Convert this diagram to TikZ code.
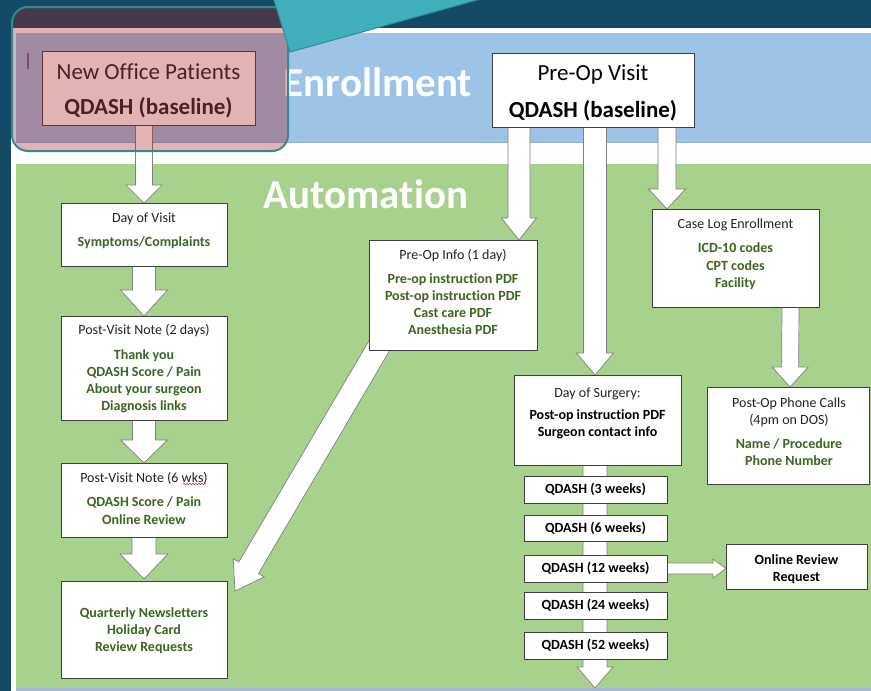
\documentclass[tikz,border=0pt]{standalone}
\usepackage{fontspec}
\setmainfont{Carlito}[Ligatures={NoCommon}]
\usetikzlibrary{calc,decorations.pathmorphing}
\pgfdeclarelayer{bglayer}
\pgfdeclarelayer{arrowlayer}
\pgfdeclarelayer{toplayer}
\pgfsetlayers{bglayer,arrowlayer,main,toplayer}
\definecolor{darkbg}{HTML}{144A66}
\definecolor{blueband}{HTML}{9DC3E6}
\definecolor{bluebandedge}{HTML}{8BAFD3}
\definecolor{greenband}{HTML}{A9D18E}
\definecolor{bottomstrip}{HTML}{A5B8CE}
\definecolor{tealfill}{HTML}{41AFBB}
\definecolor{tealedge}{HTML}{2E8C94}
\definecolor{ovlred}{HTML}{AC171B}
\definecolor{boxline}{HTML}{404040}
\definecolor{arrline}{HTML}{7F7F7F}
\definecolor{hdrc}{HTML}{222222}
\definecolor{grnc}{HTML}{3B6522}
\definecolor{tickc}{HTML}{6B6B6B}
\definecolor{squigc}{HTML}{E03030}
\newcommand\gtxt[1]{{\bfseries\color{grnc}#1}}
\newcommand\ktxt[1]{{\bfseries\color{black}#1}}
\newcommand\blockarr[5]{%
  \path #1 coordinate (ba-s);
  \path #2 coordinate (ba-e);
  \path ($(ba-e)!#5!(ba-s)$) coordinate (ba-h);
  \draw[blockarrow] ($(ba-s)!#3!90:(ba-e)$) -- ($(ba-h)!#3!-90:(ba-s)$) -- ($(ba-h)!#4!-90:(ba-s)$) -- (ba-e) -- ($(ba-h)!#4!90:(ba-s)$) -- ($(ba-h)!#3!90:(ba-s)$) -- ($(ba-s)!#3!-90:(ba-e)$) -- cycle;
}
\tikzset{
  box/.style={draw=boxline, fill=white, line width=0.8pt, inner sep=0pt, outer sep=0pt, anchor=north west},
  qdbox/.style={box, minimum width=143pt, font=\fontsize{14}{17}\selectfont\bfseries, text=black},
  txt/.style={align=center, inner sep=0pt, outer sep=0pt, anchor=north, font=\fontsize{14}{17}\selectfont, text=hdrc},
  bigtxt/.style={align=center, inner sep=0pt, outer sep=0pt, anchor=north, font=\fontsize{23}{28}\selectfont},
  bandtitle/.style={font=\fontsize{41}{45}\selectfont\bfseries, text=white, anchor=base, inner sep=0pt, outer sep=0pt},
  blockarrow/.style={draw=arrline, fill=white, line width=0.7pt, line join=miter}
}
\begin{document}
\begin{tikzpicture}[x=1pt,y=-1pt]
\useasboundingbox (0,0) rectangle (871,691);
% background
\begin{pgfonlayer}{bglayer}
\fill[darkbg] (0,0) rectangle (871,691);
\fill[white] (11,28) rectangle (871,691);
\fill[blueband] (16,33) rectangle (871,143);
\draw[bluebandedge, line width=1.2pt] (16,142.5) -- (871,142.5);
\fill[greenband] (16,164) rectangle (871,688);
\fill[bottomstrip] (16,688) rectangle (871,691);
\end{pgfonlayer}

% titles
\node[bandtitle] (enr) at (378,96) {Enrollment};
\node[bandtitle] (aut) at (366,208) {Automation};

% boxes
\node[box, minimum width=213pt, minimum height=74pt] (nop) at (42,51) {};
\node[box, minimum width=202pt, minimum height=74pt] (preop) at (492,53) {};
\node[box, minimum width=166pt, minimum height=63pt] (dov) at (61,203) {};
\node[box, minimum width=166pt, minimum height=104pt] (pvn2) at (61,316) {};
\node[box, minimum width=166pt, minimum height=74pt] (pvn6) at (61,463) {};
\node[box, minimum width=166pt, minimum height=97pt] (quart) at (61,581) {};
\node[box, minimum width=168pt, minimum height=110pt] (poi) at (369,240) {};
\node[box, minimum width=167pt, minimum height=98pt] (caselog) at (652,209) {};
\node[box, minimum width=167pt, minimum height=90pt] (dos) at (514,375) {};
\node[box, minimum width=162pt, minimum height=97pt] (popc) at (707,387) {};
\node[box, minimum width=141pt, minimum height=45pt] (orr) at (726,544) {};
\node[qdbox, minimum height=27pt] (qd3) at (524,476) {QDASH (3 weeks)};
\node[qdbox, minimum height=26pt] (qd6) at (524,515) {QDASH (6 weeks)};
\node[qdbox, minimum height=27pt] (qd12) at (524,555) {QDASH (12 weeks)};
\node[qdbox, minimum height=27pt] (qd24) at (524,592) {QDASH (24 weeks)};
\node[qdbox, minimum height=27pt] (qd52) at (524,632) {QDASH (52 weeks)};
\coordinate (spineend) at (595,688);

% box texts
\node[bigtxt, text=hdrc] (nop-t) at (148.5,60) {\strut New Office Patients\\[7pt]\textbf{QDASH (baseline)}};
\node[bigtxt, text=black] (preop-t) at (593,61) {\strut Pre-Op Visit\\[9pt]\textbf{QDASH (baseline)}};
\node[txt] (dov-t) at (144,210.2) {\strut Day of Visit\\[7pt]\gtxt{Symptoms/Complaints}};
\node[txt] (pvn2-t) at (144,322.2) {\strut Post-Visit Note (2 days)\\[8pt]\gtxt{Thank you}\\\gtxt{QDASH Score / Pain}\\\gtxt{About your surgeon}\\\gtxt{Diagnosis links}};
\node[txt] (pvn6-t) at (144,470.2) {\strut Post-Visit Note (6 wks)\\[7pt]\gtxt{QDASH Score / Pain}\\[1pt]\gtxt{Online Review}};
\node[txt] (quart-t) at (144,605.2) {\strut\gtxt{Quarterly Newsletters}\\\gtxt{Holiday Card}\\\gtxt{Review Requests}};
\node[txt] (poi-t) at (453,247.2) {\strut Pre-Op Info (1 day)\\[7pt]\gtxt{Pre-op instruction PDF}\\\gtxt{Post-op instruction PDF}\\\gtxt{Cast care PDF}\\\gtxt{Anesthesia PDF}};
\node[txt] (cl-t) at (735.5,216.2) {\strut Case Log Enrollment\\[7pt]\gtxt{ICD-10 codes}\\[1pt]\gtxt{CPT codes}\\\gtxt{Facility}};
\node[txt] (dos-t) at (597.5,385.2) {\strut Day of Surgery:\\[5pt]\ktxt{Post-op instruction PDF}\\\ktxt{Surgeon contact info}};
\node[txt] (popc-t) at (789,395.2) {\strut Post-Op Phone Calls\\(4pm on DOS)\\[7pt]\gtxt{Name / Procedure}\\\gtxt{Phone Number}};
\node[txt] (orr-t) at (796.5,552.2) {\strut\ktxt{Online Review}\\\ktxt{Request}};

% spell-check squiggle and cursor tick
\draw[squigc, line width=0.6pt, decorate, decoration={snake, amplitude=0.8pt, segment length=3pt}] (183,484) -- (206,484);
\draw[tickc, line width=1.3pt] (28,53) -- (28,69);

% block arrows
\begin{pgfonlayer}{arrowlayer}
\blockarr{(nop.south -| dov.north)}{(dov.north)}{8.5pt}{18pt}{18pt}
\blockarr{(dov.south)}{(pvn2.north)}{11.5pt}{23.5pt}{26pt}
\blockarr{(pvn2.south)}{(pvn6.north)}{11.5pt}{23.5pt}{23pt}
\blockarr{(pvn6.south)}{($(quart.north)+(0,-2)$)}{12pt}{24pt}{25pt}
\blockarr{($(preop.south west)+(27,0)$)}{($(poi.north east)+(-18,0)$)}{11pt}{17.5pt}{22pt}
\blockarr{($(preop.south west)+(103,0)$)}{($(dos.north west)+(81,0)$)}{11.5pt}{18.5pt}{22pt}
\blockarr{($(preop.south west)+(175,0)$)}{($(caselog.north west)+(15,0)$)}{9pt}{18.5pt}{20pt}
\blockarr{($(caselog.south west)+(138.5,0)$)}{($(popc.north west)+(83,0)$)}{8.5pt}{18pt}{20pt}
\blockarr{($(poi.south west)+(11,-5.5)$)}{($(quart.north east)+(8,10)$)}{11.4pt}{18pt}{27pt}
\blockarr{($(dos.south west)+(81,0)$)}{(spineend)}{12pt}{18pt}{21pt}
\blockarr{(qd12.east)}{(orr.west |- qd12.east)}{5.5pt}{9.5pt}{13pt}
\end{pgfonlayer}

% highlight overlay and callout
\begin{pgfonlayer}{toplayer}
\fill[ovlred, fill opacity=0.33, rounded corners=16pt] (12,7) rectangle (288,151);
\draw[tealedge, line width=2pt, rounded corners=16pt] (12,7) rectangle (288,151);
\filldraw[fill=tealfill, draw=tealedge, line width=1pt] (273,-3) -- (290,52) -- (488,-3) -- cycle;
\end{pgfonlayer}
\end{tikzpicture}
\end{document}
